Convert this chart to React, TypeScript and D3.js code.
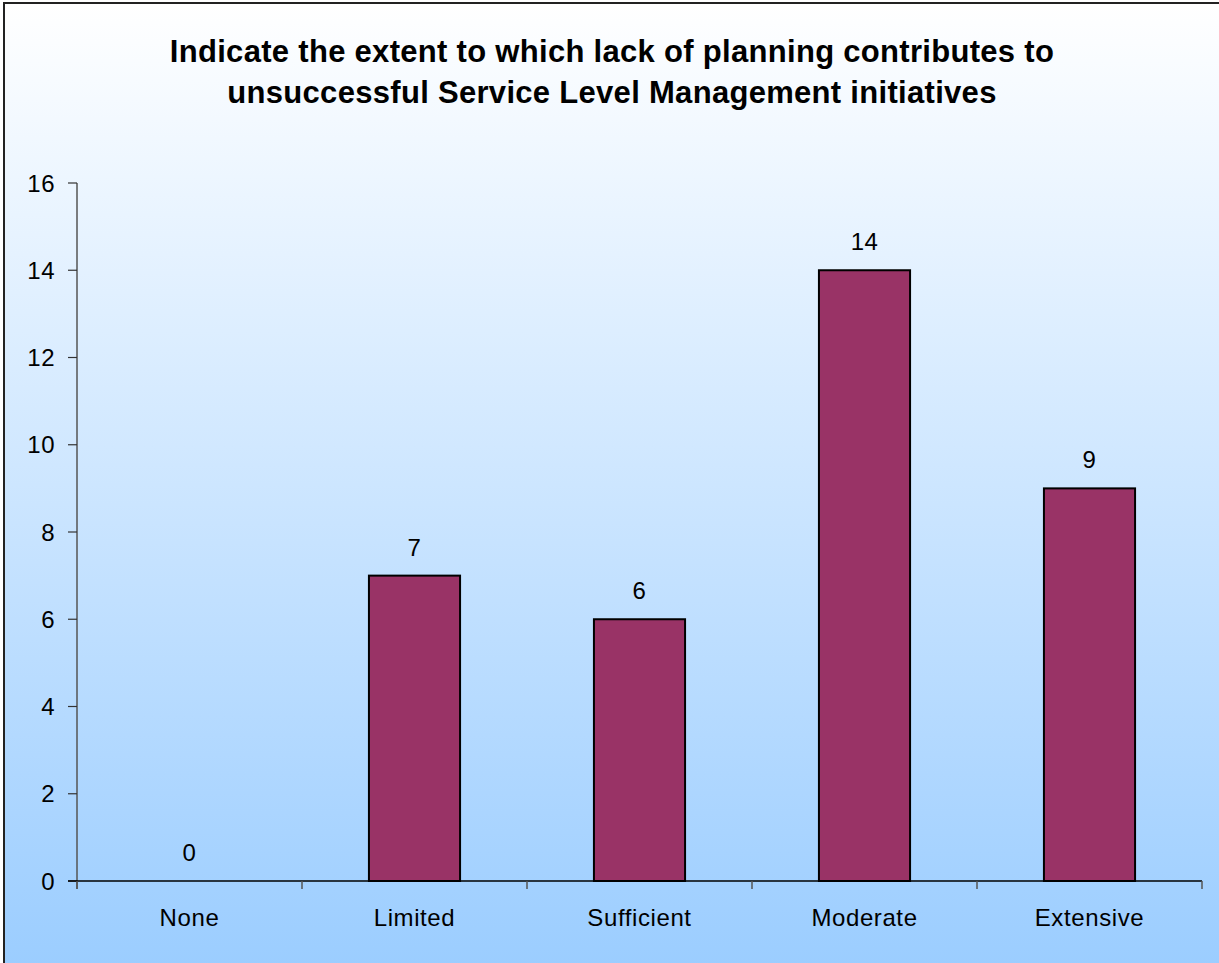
import React from "react";
import * as d3 from "d3";

const title = [
  "Indicate the extent to which lack of planning contributes to",
  "unsuccessful Service Level Management initiatives",
];
const categories = ["None", "Limited", "Sufficient", "Moderate", "Extensive"];
const values = [0, 7, 6, 14, 9];
const yTicks = [0, 2, 4, 6, 8, 10, 12, 14, 16];

const W = 1219;
const H = 963;
const FONT = "Liberation Sans, Arial, sans-serif";

export default function App() {
  const x = d3.scaleBand<string>().domain(categories).range([77, 1202]).padding(0);
  const y = d3.scaleLinear().domain([0, 16]).range([881, 183]);
  const barW = x.bandwidth() * 0.405;

  return (
    <svg
      width={W}
      height={H}
      style={{ position: "absolute", left: 0, top: 0 }}
      fontFamily={FONT}
    >
      <defs>
        <linearGradient id="bg" x1="0" y1="0" x2="0" y2="1">
          <stop offset="0" stopColor="#ffffff" />
          <stop offset="1" stopColor="#99ccff" />
        </linearGradient>
      </defs>
      <rect x={4} y={3} width={W + 20} height={H + 20} fill="url(#bg)" stroke="#222" strokeWidth={2} />
      {title.map((t, i) => (
        <text
          key={i}
          x={612}
          y={62 + i * 41}
          textAnchor="middle"
          fontWeight="bold"
          fontSize={31}
          letterSpacing={0.3}
          fill="#000"
        >
          {t}
        </text>
      ))}
      {/* y axis */}
      <line x1={77} x2={77} y1={y(16)} y2={y(0) + 8} stroke="#555" strokeWidth={1.5} />
      {yTicks.map((t) => (
        <g key={t}>
          <line x1={68} x2={77} y1={y(t)} y2={y(t)} stroke="#333" strokeWidth={1.2} />
          <text x={55} y={y(t)} dy="0.36em" textAnchor="end" fontSize={24} letterSpacing={0.5} fill="#000">
            {t}
          </text>
        </g>
      ))}
      {/* bars */}
      {categories.map((c, i) => {
        const cx = (x(c) as number) + x.bandwidth() / 2;
        return (
          <g key={c}>
            {values[i] > 0 && (
              <rect
                x={cx - barW / 2}
                y={y(values[i])}
                width={barW}
                height={y(0) - y(values[i])}
                fill="#993366"
                stroke="#000"
                strokeWidth={2}
              />
            )}
            <text x={cx} y={y(values[i]) - 20} textAnchor="middle" fontSize={24} letterSpacing={0.5} fill="#000">
              {values[i]}
            </text>
            <text x={cx} y={y(0) + 45} textAnchor="middle" fontSize={24} letterSpacing={0.6} fill="#000">
              {c}
            </text>
          </g>
        );
      })}
      {/* x axis */}
      <line x1={68} x2={1202} y1={y(0)} y2={y(0)} stroke="#000" strokeWidth={1.5} />
      {categories.concat(["_end"]).map((c, i) => {
        const xx = i < categories.length ? (x(c) as number) : 1202;
        return <line key={i} x1={xx} x2={xx} y1={y(0)} y2={y(0) + 8} stroke="#555" strokeWidth={1.5} />;
      })}
    </svg>
  );
}
